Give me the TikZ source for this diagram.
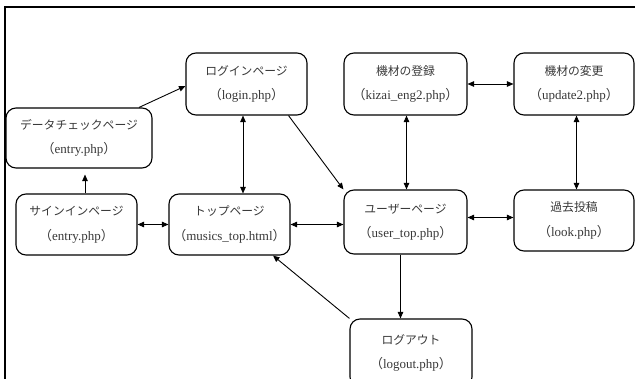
\documentclass[tikz,border=0pt]{standalone}
\usepackage{fontspec}
\setmainfont{Liberation Serif}
\newfontfamily\jpf{Noto Sans CJK JP}
\usetikzlibrary{arrows.meta}
\newcommand{\fw}[1]{{\jpf （}#1{\jpf ）}}
\newcommand{\jt}[1]{{\jpf\fontsize{11.8}{24}\selectfont #1}}
\begin{document}
\begin{tikzpicture}[x=1pt,y=-1pt,
  box/.style={draw, line width=1.1pt, rounded corners=10pt, align=center,
    text=black!78, font=\fontsize{13}{24.5}\selectfont, inner sep=0pt},
  arr/.style={-{Triangle[length=6.5pt,width=5.5pt]}, line width=0.9pt},
  darr/.style={{Triangle[length=6.5pt,width=5.5pt]}-{Triangle[length=6.5pt,width=5.5pt]}, line width=0.9pt}]
\useasboundingbox (0,0) rectangle (635,379);
% frame
\draw[line width=2pt] (4.5,390) -- (4.5,7.5) -- (645,7.5);
% boxes
\node[box, minimum width=146pt, minimum height=60pt] (datacheck) at (79,138) {\jt{データチェックページ}\\\fw{entry.php}};
\node[box, minimum width=121pt, minimum height=62pt] (login) at (246.5,84) {\jt{ログインページ}\\\fw{login.php}};
\node[box, minimum width=123pt, minimum height=62pt] (kizai) at (405.5,84) {\jt{機材の登録}\\\fw{kizai\_eng2.php}};
\node[box, minimum width=120pt, minimum height=62pt] (update) at (574,84) {\jt{機材の変更}\\\fw{update2.php}};
\node[box, minimum width=121pt, minimum height=61pt] (signin) at (76.5,224.5) {\jt{サインインページ}\\\fw{entry.php}};
\node[box, minimum width=121pt, minimum height=61pt] (top) at (229.5,224.5) {\jt{トップページ}\\\fw{musics\_top.html}};
\node[box, minimum width=123pt, minimum height=64pt] (user) at (405.5,222) {\jt{ユーザーページ}\\\fw{user\_top.php}};
\node[box, minimum width=120pt, minimum height=61pt] (look) at (574,220.5) {\jt{過去投稿}\\\fw{look.php}};
\node[box, minimum width=122pt, minimum height=68pt] (logout) at (411,353) {\jt{ログアウト}\\\fw{logout.php}};
% connectors
\draw[arr] (datacheck.north -| 139,0) -- (login.west |- 0,86);
\draw[arr, shorten >=6pt] (signin.north -| 85,0) -- (datacheck.south -| 85,0);
\draw[darr] (login.south -| 243,0) -- (top.north -| 243,0);
\draw[arr] (login.south -| 288.5,0) -- (user.north west);
\draw[darr] (signin.east |- 0,224.5) -- (top.west |- 0,224.5);
\draw[darr] (user.west |- 0,224.5) -- (top.east |- 0,224.5);
\draw[arr] (logout.north west) -- (top.south -| 273,0);
\draw[arr] (user.south -| 400.5,0) -- (logout.north -| 400.5,0);
\draw[darr] (kizai.south -| 406.5,0) -- (user.north -| 406.5,0);
\draw[darr] (kizai.east |- 0,84) -- (update.west |- 0,84);
\draw[darr] (update.south -| 576.5,0) -- (look.north -| 576.5,0);
\draw[darr] (user.east |- 0,217.5) -- (look.west |- 0,217.5);
\end{tikzpicture}
\end{document}
